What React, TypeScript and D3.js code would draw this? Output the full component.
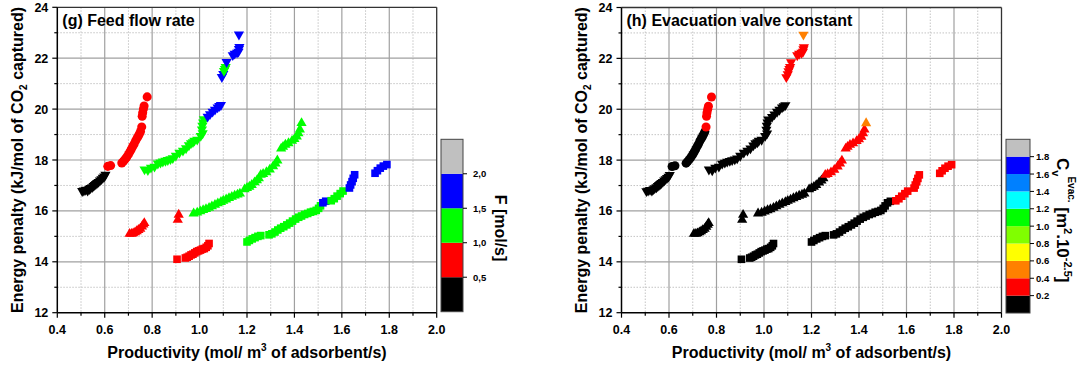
import React from 'react';
import * as d3 from 'd3';

// ---------- axis ticks ----------
const xMajor = [0.4, 0.6, 0.8, 1.0, 1.2, 1.4, 1.6, 1.8, 2.0];
const xMinor = [0.5, 0.7, 0.9, 1.1, 1.3, 1.5, 1.7, 1.9];
const yMajor = [12, 14, 16, 18, 20, 22, 24];
const yMinor = [13, 15, 17, 19, 21, 23];

// ---------- data: series A (down triangles) ----------
const aX = [0.505, 0.512, 0.52, 0.528, 0.535, 0.54, 0.547, 0.553, 0.558, 0.563, 0.568, 0.574, 0.58, 0.586, 0.592, 0.598, 0.603];
const aY = [16.78, 16.8, 16.83, 16.8, 16.86, 16.9, 16.93, 16.98, 17.02, 17.06, 17.1, 17.14, 17.2, 17.25, 17.3, 17.35, 17.42];
const aF = [0.3, 0.3, 0.3, 0.3, 0.3, 0.3, 0.3, 0.3, 0.3, 0.3, 0.3, 0.3, 0.3, 0.3, 0.3, 0.3, 0.3];
const aCv = [0.1, 0.1, 0.1, 0.1, 0.1, 0.1, 0.1, 0.1, 0.1, 0.1, 0.1, 0.1, 0.1, 0.1, 0.1, 0.1, 0.1];

// ---------- circles ----------
const cX = [0.613, 0.625, 0.672, 0.679, 0.686, 0.693, 0.7, 0.706, 0.712, 0.718, 0.724, 0.73, 0.736, 0.741, 0.746, 0.751, 0.756, 0.758, 0.76, 0.763, 0.766, 0.779];
const cY = [17.75, 17.78, 17.88, 17.95, 18.03, 18.12, 18.22, 18.32, 18.42, 18.53, 18.63, 18.75, 18.85, 18.93, 19.02, 19.12, 19.3, 19.72, 19.86, 20.0, 20.12, 20.48];
const cF = [0.75, 0.75, 0.75, 0.75, 0.75, 0.75, 0.75, 0.75, 0.75, 0.75, 0.75, 0.75, 0.75, 0.75, 0.75, 0.75, 0.75, 0.75, 0.75, 0.75, 0.75, 0.75];
const cCv = [0.1, 0.1, 0.1, 0.1, 0.1, 0.1, 0.1, 0.1, 0.1, 0.1, 0.1, 0.1, 0.1, 0.1, 0.1, 0.1, 0.3, 0.3, 0.3, 0.3, 0.3, 0.3];

// ---------- series B (down triangles) ----------
const bX = [0.768, 0.782, 0.795, 0.81, 0.824, 0.835, 0.845, 0.856, 0.866, 0.877, 0.887, 0.9, 0.915, 0.93, 0.943, 0.955, 0.964, 0.972, 0.978, 0.99, 1.005, 1.013, 1.01, 1.012, 1.015, 1.018, 1.034, 1.044, 1.055, 1.065, 1.076, 1.083, 1.09];
const bY = [17.63, 17.6, 17.7, 17.74, 17.86, 17.9, 17.94, 17.97, 18.0, 18.03, 18.07, 18.17, 18.29, 18.37, 18.46, 18.58, 18.66, 18.7, 18.76, 18.8, 18.95, 19.05, 19.2, 19.35, 19.48, 19.6, 19.7, 19.8, 19.9, 19.98, 20.07, 20.12, 20.16];
const bF = [1.25, 1.25, 1.25, 1.25, 1.25, 1.25, 1.25, 1.25, 1.25, 1.25, 1.25, 1.25, 1.25, 1.25, 1.25, 1.25, 1.25, 1.25, 1.25, 1.25, 1.25, 1.25, 1.25, 1.25, 1.25, 1.25, 1.75, 1.75, 1.75, 1.75, 1.75, 1.75, 1.75];
const bCv = [0.1, 0.1, 0.1, 0.1, 0.1, 0.1, 0.1, 0.1, 0.1, 0.1, 0.1, 0.1, 0.1, 0.1, 0.1, 0.1, 0.1, 0.1, 0.1, 0.1, 0.1, 0.1, 0.1, 0.1, 0.1, 0.1, 0.1, 0.1, 0.1, 0.1, 0.1, 0.1, 0.1];

// ---------- series C (down triangles, top) ----------
const dX = [1.094, 1.1, 1.103, 1.107, 1.11, 1.114, 1.14, 1.148, 1.158, 1.164, 1.166, 1.168, 1.166];
const dY = [21.26, 21.38, 21.5, 21.58, 21.66, 21.85, 22.12, 22.18, 22.22, 22.26, 22.36, 22.44, 22.93];
const dF = [1.75, 1.75, 1.25, 1.25, 1.25, 1.75, 1.75, 1.75, 1.75, 1.75, 1.75, 1.75, 1.75];
const dCv = [0.3, 0.3, 0.3, 0.3, 0.3, 0.3, 0.3, 0.3, 0.3, 0.3, 0.3, 0.3, 0.5];

// ---------- series D (up triangles, low) ----------
const uX = [0.705, 0.713, 0.72, 0.728, 0.735, 0.742, 0.75, 0.757, 0.763, 0.767, 0.908, 0.912];
const uY = [15.1, 15.1, 15.12, 15.16, 15.2, 15.25, 15.3, 15.38, 15.46, 15.52, 15.65, 15.85];
const uF = [0.75, 0.75, 0.75, 0.75, 0.75, 0.75, 0.75, 0.75, 0.75, 0.75, 0.75, 0.75];
const uCv = [0.1, 0.1, 0.1, 0.1, 0.1, 0.1, 0.1, 0.1, 0.1, 0.1, 0.1, 0.1];

// ---------- series E (up triangles) ----------
const eX = [0.975, 0.99, 1.003, 1.015, 1.027, 1.04, 1.052, 1.065, 1.077, 1.09, 1.1, 1.112, 1.124, 1.136, 1.148, 1.16, 1.17, 1.19, 1.2, 1.21, 1.22, 1.232, 1.242, 1.25, 1.258, 1.268, 1.282, 1.296, 1.31, 1.32, 1.328, 1.344, 1.352, 1.362, 1.375, 1.39, 1.4, 1.41, 1.417, 1.423, 1.43];
const eY = [15.9, 15.93, 15.98, 16.03, 16.07, 16.12, 16.18, 16.24, 16.3, 16.35, 16.4, 16.45, 16.5, 16.55, 16.6, 16.64, 16.68, 16.85, 16.9, 16.95, 17.02, 17.12, 17.2, 17.28, 17.42, 17.45, 17.52, 17.62, 17.75, 17.86, 17.98, 18.45, 18.52, 18.6, 18.66, 18.75, 18.82, 18.92, 19.05, 19.2, 19.45];
const eF = [1.25, 1.25, 1.25, 1.25, 1.25, 1.25, 1.25, 1.25, 1.25, 1.25, 1.25, 1.25, 1.25, 1.25, 1.25, 1.25, 1.25, 1.25, 1.25, 1.25, 1.25, 1.25, 1.25, 1.25, 1.25, 1.25, 1.25, 1.25, 1.25, 1.25, 1.25, 1.25, 1.25, 1.25, 1.25, 1.25, 1.25, 1.25, 1.25, 1.25, 1.25];
const eCv = [0.1, 0.1, 0.1, 0.1, 0.1, 0.1, 0.1, 0.1, 0.1, 0.1, 0.1, 0.1, 0.1, 0.1, 0.1, 0.1, 0.1, 0.1, 0.1, 0.1, 0.1, 0.1, 0.1, 0.1, 0.3, 0.3, 0.3, 0.3, 0.3, 0.3, 0.3, 0.3, 0.3, 0.3, 0.3, 0.3, 0.3, 0.3, 0.3, 0.3, 0.5];

// ---------- series F (squares, low) ----------
const sX = [0.905, 0.94, 0.948, 0.956, 0.964, 0.972, 0.98, 0.988, 0.996, 1.004, 1.012, 1.02, 1.028, 1.035, 1.04];
const sY = [14.1, 14.15, 14.18, 14.22, 14.27, 14.3, 14.35, 14.4, 14.43, 14.46, 14.5, 14.52, 14.57, 14.63, 14.72];
const sF = [0.75, 0.75, 0.75, 0.75, 0.75, 0.75, 0.75, 0.75, 0.75, 0.75, 0.75, 0.75, 0.75, 0.75, 0.75];
const sCv = [0.1, 0.1, 0.1, 0.1, 0.1, 0.1, 0.1, 0.1, 0.1, 0.1, 0.1, 0.1, 0.1, 0.1, 0.1];

// ---------- series G (squares, right) ----------
const gX = [1.2, 1.21, 1.222, 1.234, 1.246, 1.258, 1.293, 1.305, 1.318, 1.33, 1.342, 1.355, 1.368, 1.38, 1.392, 1.405, 1.418, 1.43, 1.443, 1.456, 1.468, 1.48, 1.492, 1.502, 1.51, 1.52, 1.532, 1.555, 1.568, 1.58, 1.593, 1.605, 1.632, 1.637, 1.643, 1.648, 1.654, 1.74, 1.75, 1.762, 1.775, 1.79];
const gY = [14.78, 14.84, 14.9, 14.95, 15.0, 15.03, 15.06, 15.1, 15.17, 15.25, 15.32, 15.38, 15.45, 15.52, 15.6, 15.68, 15.75, 15.8, 15.86, 15.9, 15.95, 15.98, 16.02, 16.1, 16.2, 16.32, 16.38, 16.4, 16.48, 16.58, 16.68, 16.78, 16.9, 17.02, 17.15, 17.28, 17.42, 17.48, 17.58, 17.68, 17.76, 17.82];
const gF = [1.25, 1.25, 1.25, 1.25, 1.25, 1.25, 1.25, 1.25, 1.25, 1.25, 1.25, 1.25, 1.25, 1.25, 1.25, 1.25, 1.25, 1.25, 1.25, 1.25, 1.25, 1.25, 1.25, 1.25, 1.25, 1.75, 1.75, 1.25, 1.25, 1.25, 1.25, 1.25, 1.75, 1.75, 1.75, 1.75, 1.75, 1.75, 1.75, 1.75, 1.75, 1.75];
const gCv = [0.1, 0.1, 0.1, 0.1, 0.1, 0.1, 0.1, 0.1, 0.1, 0.1, 0.1, 0.1, 0.1, 0.1, 0.1, 0.1, 0.1, 0.1, 0.1, 0.1, 0.1, 0.1, 0.1, 0.1, 0.1, 0.1, 0.1, 0.3, 0.3, 0.3, 0.3, 0.3, 0.3, 0.3, 0.3, 0.3, 0.3, 0.3, 0.3, 0.3, 0.3, 0.3];

// ---------- colour maps ----------
const fBreaks = [0.5, 1.0, 1.5, 2.0];
const fColors = ['#000000', '#ff0000', '#00ff00', '#0000ff', '#c0c0c0'];
const fTickLabels = ['0,5', '1,0', '1,5', '2,0'];
const cvBreaks = [0.2, 0.4, 0.6, 0.8, 1.0, 1.2, 1.4, 1.6, 1.8];
const cvColors = ['#000000', '#ff0000', '#ff8000', '#ffff00', '#80ff00', '#00ff00', '#00ffff', '#0080ff', '#0000ff', '#c0c0c0'];
const cvTickLabels = ['0.2', '0.4', '0.6', '0.8', '1.0', '1.2', '1.4', '1.6', '1.8'];

type Shape = 'down' | 'up' | 'circle' | 'square';
type Series = { shape: Shape; x: number[]; y: number[]; f: number[]; cv: number[] };

const seriesList: Series[] = [
  { shape: 'down', x: aX, y: aY, f: aF, cv: aCv },
  { shape: 'circle', x: cX, y: cY, f: cF, cv: cCv },
  { shape: 'down', x: bX, y: bY, f: bF, cv: bCv },
  { shape: 'down', x: dX, y: dY, f: dF, cv: dCv },
  { shape: 'up', x: uX, y: uY, f: uF, cv: uCv },
  { shape: 'up', x: eX, y: eY, f: eF, cv: eCv },
  { shape: 'square', x: sX, y: sY, f: sF, cv: sCv },
  { shape: 'square', x: gX, y: gY, f: gF, cv: gCv },
];

const FONT = "'Liberation Sans', Arial, Helvetica, sans-serif";

const triPath = d3.symbol().type(d3.symbolTriangle).size(45)() as string;
const circPath = d3.symbol().type(d3.symbolCircle).size(64)() as string;
const sqPath = d3.symbol().type(d3.symbolSquare).size(58)() as string;

type Box = { l: number; r: number; t: number; b: number };

function Panel({ box, title, mode, yTitleX }: { box: Box; title: string; mode: 'f' | 'cv'; yTitleX: number }) {
  const xs = d3.scaleLinear().domain([0.4, 2.0]).range([box.l, box.r]);
  const ys = d3.scaleLinear().domain([12, 24]).range([box.b, box.t]);
  const color = mode === 'f'
    ? d3.scaleThreshold<number, string>().domain(fBreaks).range(fColors)
    : d3.scaleThreshold<number, string>().domain(cvBreaks).range(cvColors);
  const cx = (box.l + box.r) / 2;
  const cy = (box.t + box.b) / 2;
  return (
    <g>
      {xMinor.map((v) => (
        <line key={'xm' + v} x1={xs(v)} x2={xs(v)} y1={box.t} y2={box.b} stroke="#c4c4c4" strokeWidth={1} strokeDasharray="1.5,1.5" />
      ))}
      {yMinor.map((v) => (
        <line key={'ym' + v} x1={box.l} x2={box.r} y1={ys(v)} y2={ys(v)} stroke="#c4c4c4" strokeWidth={1} strokeDasharray="1.5,1.5" />
      ))}
      {xMajor.slice(1, -1).map((v) => (
        <line key={'xg' + v} x1={xs(v)} x2={xs(v)} y1={box.t} y2={box.b} stroke="#a0a0a0" strokeWidth={1.2} />
      ))}
      {yMajor.slice(1, -1).map((v) => (
        <line key={'yg' + v} x1={box.l} x2={box.r} y1={ys(v)} y2={ys(v)} stroke="#a0a0a0" strokeWidth={1.2} />
      ))}
      <line x1={box.l} x2={box.r} y1={box.t} y2={box.t} stroke="#333" strokeWidth={1.3} />
      <line x1={box.r} x2={box.r} y1={box.t} y2={box.b} stroke="#333" strokeWidth={1.3} />
      {seriesList.map((s, si) =>
        s.x.map((xv, i) => {
          const px = xs(xv);
          const py = ys(s.y[i]);
          const fill = color(mode === 'f' ? s.f[i] : s.cv[i]);
          const d = s.shape === 'circle' ? circPath : s.shape === 'square' ? sqPath : triPath;
          const tr = s.shape === 'down' ? `translate(${px},${py}) rotate(180)` : `translate(${px},${py})`;
          return <path key={si + '-' + i} d={d} transform={tr} fill={fill} />;
        })
      )}
      <line x1={box.l} x2={box.l} y1={box.t} y2={box.b} stroke="#000" strokeWidth={1.5} />
      <line x1={box.l} x2={box.r} y1={box.b} y2={box.b} stroke="#000" strokeWidth={1.5} />
      {xMajor.map((v) => (
        <line key={'xt' + v} x1={xs(v)} x2={xs(v)} y1={box.b} y2={box.b + 5} stroke="#000" strokeWidth={1.2} />
      ))}
      {xMinor.map((v) => (
        <line key={'xmt' + v} x1={xs(v)} x2={xs(v)} y1={box.b} y2={box.b + 3} stroke="#000" strokeWidth={1.2} />
      ))}
      {yMajor.map((v) => (
        <line key={'yt' + v} x1={box.l - 5} x2={box.l} y1={ys(v)} y2={ys(v)} stroke="#000" strokeWidth={1.2} />
      ))}
      {yMinor.map((v) => (
        <line key={'ymt' + v} x1={box.l - 3} x2={box.l} y1={ys(v)} y2={ys(v)} stroke="#000" strokeWidth={1.2} />
      ))}
      {xMajor.map((v) => (
        <text key={'xl' + v} x={xs(v)} y={box.b + 21} textAnchor="middle" fontSize={12.5} fontWeight="bold" fontFamily={FONT}>
          {v.toFixed(1)}
        </text>
      ))}
      {yMajor.map((v) => (
        <text key={'yl' + v} x={box.l - 9} y={ys(v) + 4.5} textAnchor="end" fontSize={12.5} fontWeight="bold" fontFamily={FONT}>
          {v}
        </text>
      ))}
      <text x={box.l + 5} y={26} fontSize={16} fontWeight="bold" fontFamily={FONT}>{title}</text>
      <text x={cx} y={358} textAnchor="middle" fontSize={16} fontWeight="bold" fontFamily={FONT}>
        Productivity (mol/ m<tspan fontSize={10} dy={-7}>3</tspan><tspan dy={7}> of adsorbent/s)</tspan>
      </text>
      <text transform={`translate(${yTitleX},${cy}) rotate(-90)`} textAnchor="middle" fontSize={16} fontWeight="bold" fontFamily={FONT}>
        Energy penalty (kJ/mol of CO<tspan fontSize={10} dy={4}>2</tspan><tspan dy={-4}> captured)</tspan>
      </text>
    </g>
  );
}

function ColorBar({ box, max, breaks, colors, labels, labelX }: { box: Box; max: number; breaks: number[]; colors: string[]; labels: string[]; labelX: number }) {
  const sc = d3.scaleLinear().domain([0, max]).range([box.b, box.t]);
  const edges = [0, ...breaks, max];
  return (
    <g>
      {colors.map((c, i) => (
        <rect key={i} x={box.l} width={box.r - box.l} y={sc(edges[i + 1])} height={sc(edges[i]) - sc(edges[i + 1])} fill={c} />
      ))}
      <rect x={box.l} y={box.t} width={box.r - box.l} height={box.b - box.t} fill="none" stroke="#444" strokeWidth={1} />
      {breaks.map((v, i) => (
        <g key={'t' + i}>
          <line x1={box.r} x2={box.r + 4} y1={sc(v)} y2={sc(v)} stroke="#000" strokeWidth={1} />
          <text x={labelX} y={sc(v) + 3.5} fontSize={9.5} fontWeight="bold" fontFamily={FONT}>{labels[i]}</text>
        </g>
      ))}
    </g>
  );
}

export default function App() {
  const leftBox: Box = { l: 57.3, r: 436.7, t: 7.3, b: 312.7 };
  const rightBox: Box = { l: 621.5, r: 1001.5, t: 7.5, b: 312.7 };
  return (
    <svg width={1078} height={370} style={{ position: 'absolute', left: 0, top: 0, background: '#fff' }}>
      <rect x={0} y={0} width={1078} height={370} fill="#fff" />
      <Panel box={leftBox} title="(g) Feed flow rate" mode="f" yTitleX={23} />
      <Panel box={rightBox} title="(h) Evacuation valve constant" mode="cv" yTitleX={587} />
      <ColorBar box={{ l: 441, r: 463, t: 139.3, b: 311.7 }} max={2.5} breaks={fBreaks} colors={fColors} labels={fTickLabels} labelX={473} />
      <ColorBar box={{ l: 1006, r: 1030, t: 139.3, b: 313 }} max={2.0} breaks={cvBreaks} colors={cvColors} labels={cvTickLabels} labelX={1036} />
      <text transform="translate(495,228) rotate(90)" textAnchor="middle" fontSize={16} fontWeight="bold" fontFamily={FONT}>
        F [mol/s]
      </text>
      <text transform="translate(1057,158) rotate(90)" fontSize={17} fontWeight="bold" fontFamily={FONT}>
        C<tspan fontSize={11} dy={5}>v</tspan><tspan fontSize={10} dy={-16}>Evac.</tspan>
        <tspan fontSize={17} dy={11}> [m</tspan><tspan fontSize={11} dy={-7}>2</tspan>
        <tspan fontSize={17} dy={7}>.10</tspan><tspan fontSize={11} dy={-7}>-2.5</tspan>
        <tspan fontSize={17} dy={7}>]</tspan>
      </text>
    </svg>
  );
}
